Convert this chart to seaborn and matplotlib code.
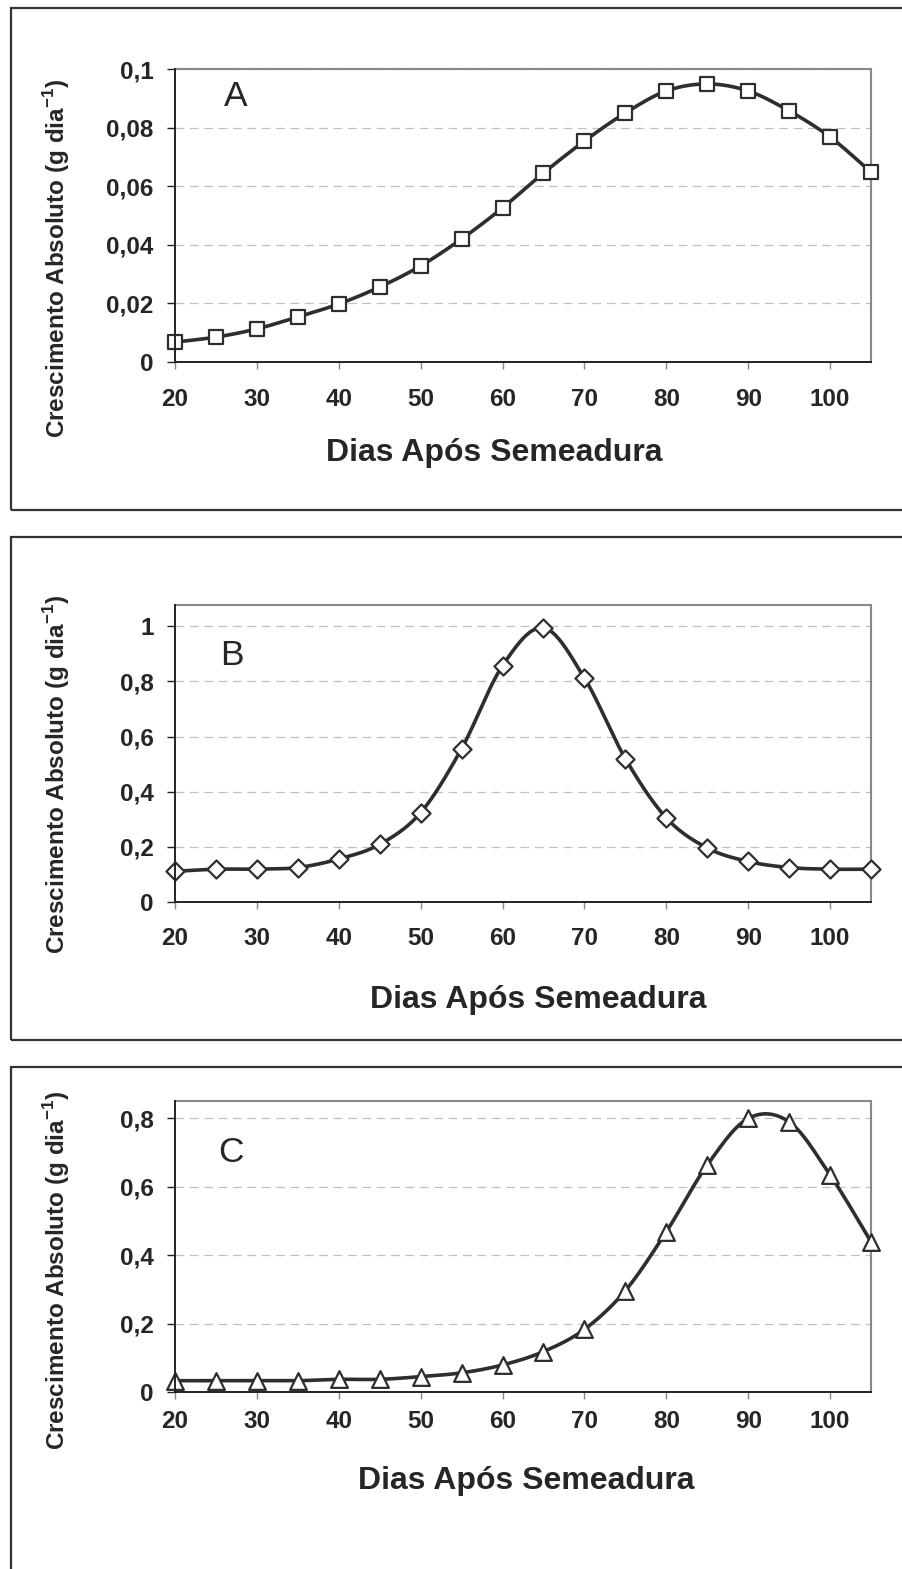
import numpy as np
import pandas as pd
import matplotlib
matplotlib.use("Agg")
import matplotlib.pyplot as plt
from matplotlib.patches import Rectangle
from matplotlib.ticker import FixedLocator, FixedFormatter
import seaborn as sns

# ---------------- data ----------------
dias = [20, 25, 30, 35, 40, 45, 50, 55, 60, 65, 70, 75, 80, 85, 90, 95, 100, 105]
crescimento_A = [0.0068, 0.0085, 0.0113, 0.0154, 0.0198, 0.0256, 0.0328, 0.0420, 0.0526,
                 0.0645, 0.0754, 0.0850, 0.0925, 0.0949, 0.0925, 0.0857, 0.0768, 0.0648]
crescimento_B = [0.111, 0.119, 0.119, 0.125, 0.156, 0.209, 0.324, 0.556, 0.857,
                 0.994, 0.812, 0.520, 0.305, 0.196, 0.147, 0.125, 0.119, 0.119]
crescimento_C = [0.033, 0.033, 0.033, 0.033, 0.037, 0.037, 0.045, 0.056, 0.079,
                 0.118, 0.183, 0.296, 0.468, 0.663, 0.799, 0.789, 0.634, 0.439]
painel_letras = ["A", "B", "C"]
x_ticks = [20, 30, 40, 50, 60, 70, 80, 90, 100]
y_ticks_A = [0, 0.02, 0.04, 0.06, 0.08, 0.1]
y_labels_A = ["0", "0,02", "0,04", "0,06", "0,08", "0,1"]
y_ticks_B = [0, 0.2, 0.4, 0.6, 0.8, 1.0]
y_labels_B = ["0", "0,2", "0,4", "0,6", "0,8", "1"]
y_ticks_C = [0, 0.2, 0.4, 0.6, 0.8]
y_labels_C = ["0", "0,2", "0,4", "0,6", "0,8"]
x_titulo = "Dias Após Semeadura"
y_titulo = r"Crescimento Absoluto (g dia$^{\mathbf{-1}}$)"

# ---------------- style ----------------
sns.set_style("white")
plt.rcParams['font.family'] = ['Liberation Sans', 'DejaVu Sans']
plt.rcParams['mathtext.fontset'] = 'custom'
plt.rcParams['mathtext.rm'] = 'Liberation Sans'
plt.rcParams['mathtext.bf'] = 'Liberation Sans:bold'

W, H = 903, 1569
fig = plt.figure(figsize=(W / 100, H / 100), dpi=100)
fig.patch.set_facecolor("white")

LINE = "#2e2e2e"


def smooth(xs, ys, n=24):
    """Excel-style smoothed line (Catmull-Rom through the points)."""
    xs = np.asarray(xs, float)
    ys = np.asarray(ys, float)
    P = np.column_stack([xs, ys])
    P_ext = np.vstack([P[0], P, P[-1]])
    out = []
    t = np.linspace(0, 1, n, endpoint=False)
    for i in range(1, len(P_ext) - 2):
        p0, p1, p2, p3 = P_ext[i - 1], P_ext[i], P_ext[i + 1], P_ext[i + 2]
        c1 = p1 + (p2 - p0) / 6.0
        c2 = p2 - (p3 - p1) / 6.0
        tt = t[:, None]
        seg = ((1 - tt) ** 3) * p1 + 3 * ((1 - tt) ** 2) * tt * c1 + 3 * (1 - tt) * tt ** 2 * c2 + tt ** 3 * p2
        out.append(seg)
    out.append(P[-1][None, :])
    arr = np.vstack(out)
    return arr[:, 0], arr[:, 1]


def px_axes(left, right, top, bottom):
    return [left / W, 1 - bottom / H, (right - left) / W, (bottom - top) / H]


panels = [
    dict(vals=crescimento_A, marker="s", ms=112, ylim=0.1, yt=y_ticks_A, yl=y_labels_A,
         box=(69, 362), frame=(8, 510), xpad=14, letter=(236, 97),
         xlab=(494, 461), ylab=(57, 258)),
    dict(vals=crescimento_B, marker="D", ms=85, ylim=1.077, yt=y_ticks_B, yl=y_labels_B,
         box=(605, 902), frame=(537, 1040), xpad=13, letter=(232, 655),
         xlab=(538, 1008), ylab=(57, 774)),
    dict(vals=crescimento_C, marker="^", ms=145, ylim=0.85, yt=y_ticks_C, yl=y_labels_C,
         box=(1101, 1392), frame=(1067, 1600), xpad=8, letter=(231, 1152),
         xlab=(526, 1489), ylab=(57, 1270)),
]

for i, p in enumerate(panels):
    top, bottom = p["box"]
    ax = fig.add_axes(px_axes(175, 871, top, bottom))
    ax.set_facecolor("white")

    sx, sy = smooth(dias, p["vals"])
    curve = pd.DataFrame({"x": sx, "y": sy})
    pts = pd.DataFrame({"x": dias, "y": p["vals"]})
    sns.lineplot(data=curve, x="x", y="y", ax=ax, sort=False, estimator=None,
                 color=LINE, linewidth=2.6, zorder=3)
    sns.scatterplot(data=pts, x="x", y="y", ax=ax, marker=p["marker"], s=p["ms"],
                    facecolor="white", edgecolor=LINE, linewidth=1.6, zorder=4,
                    clip_on=False)

    ax.set_xlim(20, 105)
    ax.set_ylim(0, p["ylim"])
    ax.xaxis.set_major_locator(FixedLocator(x_ticks))
    ax.yaxis.set_major_locator(FixedLocator(p["yt"]))
    ax.yaxis.set_major_formatter(FixedFormatter(p["yl"]))
    ax.set_xlabel("")
    ax.set_ylabel("")

    for t in p["yt"][1:]:
        ax.axhline(t, color="#c0c0c0", linewidth=0.9, linestyle=(0, (7, 4.5)), zorder=1)

    for s in ["left", "bottom"]:
        ax.spines[s].set_color("#222222")
        ax.spines[s].set_linewidth(1.4)
    for s in ["top", "right"]:
        ax.spines[s].set_color("#888888")
        ax.spines[s].set_linewidth(1.5)
    ax.spines["left"].set_zorder(5)
    ax.spines["bottom"].set_zorder(5)

    ax.tick_params(axis="y", direction="out", length=6, width=1.0, color="#222222",
                   pad=9.5, labelsize=17.5, left=True)
    ax.tick_params(axis="x", direction="out", length=5, width=1.0, color="#888888",
                   pad=p["xpad"], labelsize=17.5, bottom=True)
    for lab in ax.get_xticklabels() + ax.get_yticklabels():
        lab.set_fontweight("bold")

    # outer frame of the panel
    ftop, fbot = p["frame"]
    fig.add_artist(Rectangle((11 / W, 1 - fbot / H), (W + 20 - 11) / W, (fbot - ftop) / H,
                             transform=fig.transFigure, fill=False, edgecolor="#333333",
                             linewidth=1.6, clip_on=False))

    lx, ly = p["letter"]
    fig.text(lx / W, 1 - ly / H, painel_letras[i], fontsize=25.5, ha="center", va="center")
    xx, xy = p["xlab"]
    fig.text(xx / W, 1 - xy / H, x_titulo, fontsize=23, fontweight="bold",
             ha="center", va="baseline")
    yx, yy = p["ylab"]
    fig.text(yx / W, 1 - yy / H, y_titulo, fontsize=17.5, fontweight="bold",
             rotation=90, ha="center", va="center")

fig.savefig("out.png", dpi=100, facecolor="white")
